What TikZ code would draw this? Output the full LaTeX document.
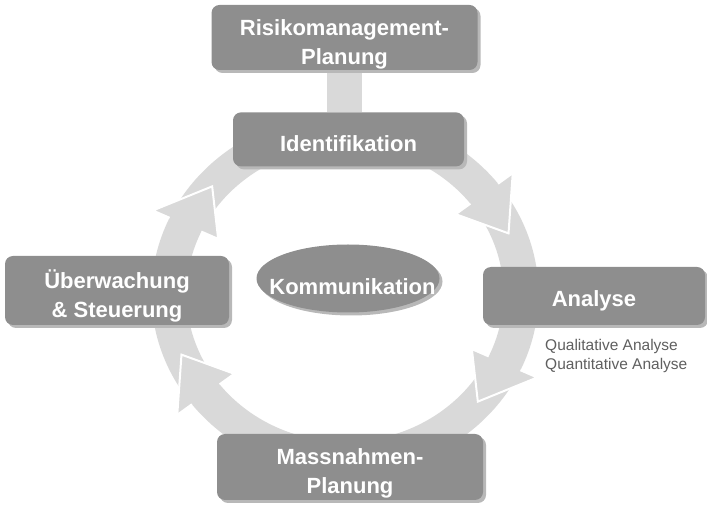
\documentclass[tikz,border=0pt]{standalone}
\usepackage{fontspec}
\setmainfont{Liberation Sans}
\usetikzlibrary{shapes.geometric,shadows,positioning,backgrounds}
\definecolor{boxg}{HTML}{8E8E8E}
\definecolor{shdg}{HTML}{B8B8B8}
\definecolor{ringg}{HTML}{D9D9D9}
\definecolor{subg}{HTML}{5F5F5F}
\tikzset{bx/.style={fill=boxg,rounded corners=8pt,align=center,text=white,font=\fontsize{22}{29}\selectfont\bfseries,inner sep=0pt,text height=24pt,text depth=0pt,drop shadow={shadow xshift=3pt,shadow yshift=-3pt,fill=shdg,opacity=1}},
 bb/.style={bx,text height=54pt},
 ov/.style={fill=boxg,ellipse,text=white,font=\fontsize{22}{29}\selectfont\bfseries,inner sep=0pt,drop shadow={shadow xshift=3pt,shadow yshift=-3pt,fill=shdg,opacity=1}},
 sb/.style={align=left,text=subg,font=\fontsize{15.5}{19.5}\selectfont,inner sep=0pt},
 rg/.style={fill=ringg},bar/.style={draw=ringg,line width=35pt},
 hd/.style={fill=ringg,draw=white,line width=2pt}}
\newcommand{\ahead}[1]{\filldraw[hd](#1+16:158.5)--(#1+16:140)--(#1:176)--(#1+16:212)--(#1+16:193.5);}

\begin{document}
\begin{tikzpicture}[x=1pt,y=1pt]
\useasboundingbox (0,0) rectangle (707,506);
\node[bb,minimum width=266pt,minimum height=65pt](risk) at (344.5,468.5){Risikomanagement-\\Planung};
\node[bx,minimum width=231pt,minimum height=54pt,below=42pt of risk,xshift=4pt](ident){Identifikation};
\node[bb,minimum width=224pt,minimum height=69pt](ueber) at (117,215.5){Überwachung\\\& Steuerung};
\node[bx,minimum width=222pt,minimum height=58pt,text height=22pt](ana) at (594,210){Analyse};
\node[bb,minimum width=266pt,minimum height=66pt](mass) at (350,39){Massnahmen-\\Planung};
\node[ov,minimum width=183pt,minimum height=68pt](komm) at (348,227.5){\makebox[0pt]{\hspace*{9pt}\smash{\raisebox{-16pt}{Kommunikation}}}};
\node[sb,anchor=north west](qa) at (545,167){Qualitative Analyse\\Quantitative Analyse};
% ring of arrows behind the boxes
\begin{scope}[on background layer]
\begin{scope}[shift={(345,212)},yscale=0.932]
\fill[rg,even odd rule](0,0)circle(193.5)(0,0)circle(158.5);
\ahead{139}\ahead{21.7}\ahead{-41}\ahead{201.7}
\end{scope}
\draw[bar](risk.south)--(risk.south|-ident.north);
\end{scope}
\end{tikzpicture}
\end{document}
